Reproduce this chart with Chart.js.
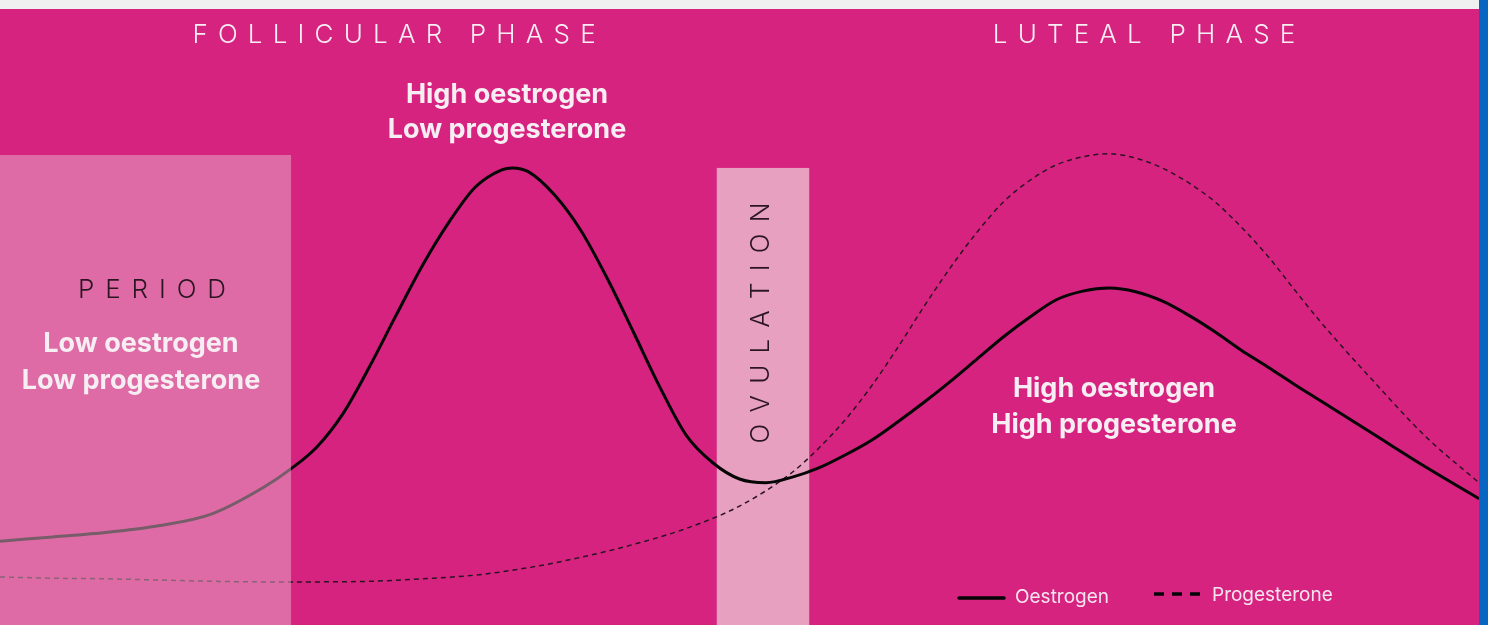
<!DOCTYPE html>
<html>
<head>
<meta charset="utf-8">
<script src="https://cdn.jsdelivr.net/npm/chart.js@4.4.1/dist/chart.umd.min.js"></script>
<style>
  html, body { margin: 0; padding: 0; background: #f0f0f0; overflow: hidden; }
  #wrap { position: absolute; left: 0; top: 9px; width: 1479px; height: 616px; }
  #stripe { position: absolute; left: 1479px; top: 0; width: 9px; height: 625px; background: #0766c1; }
</style>
</head>
<body>
<div id="wrap"><canvas id="chart"></canvas></div>
<div id="stripe"></div>
<script>
// cycle day (0-28) and relative hormone level (0-100)
const oestrogenDays = [0, 1, 2, 3, 4, 5, 5.5, 6, 6.5, 7, 7.5, 8, 8.5, 9, 9.5, 9.7, 10, 10.5, 11, 11.5, 12, 12.5, 13, 13.5, 14, 14.5, 15, 15.5, 16, 16.5, 17, 17.5, 18, 18.5, 19, 19.5, 20, 20.5, 21, 21.5, 22, 22.5, 23, 23.5, 24, 24.5, 25, 26, 27, 28]
const oestrogen = [13.6, 14.3, 15.0, 16.1, 18.0, 22.4, 25.3, 28.9, 34.4, 42.0, 50.3, 58.4, 65.4, 71.1, 73.9, 74.2, 73.6, 69.8, 64.0, 56.2, 47.4, 38.5, 30.7, 26.3, 23.7, 23.1, 24.0, 25.5, 27.6, 30.0, 33.0, 36.2, 39.6, 43.2, 46.8, 50.0, 52.8, 54.2, 54.7, 54.1, 52.6, 50.3, 47.6, 44.6, 41.9, 39.1, 36.4, 31.0, 25.6, 20.5]

const progesteroneDays = [0, 1, 2, 3, 4, 5, 6, 7, 8, 9, 10, 11, 12, 13, 14, 15, 15.5, 16, 16.5, 17, 17.5, 18, 18.5, 19, 19.5, 20, 20.5, 21, 21.5, 22, 22.5, 23, 23.5, 24, 24.5, 25, 26, 27, 28]
const progesterone = [7.8, 7.6, 7.5, 7.3, 7.1, 7.0, 7.0, 7.1, 7.5, 8.1, 9.3, 11.0, 13.1, 15.7, 19.3, 24.8, 28.7, 33.3, 38.8, 45.1, 51.8, 58.1, 63.8, 68.7, 72.2, 74.7, 76.0, 76.5, 75.8, 74.2, 71.8, 68.7, 64.6, 59.9, 54.5, 49.2, 39.6, 30.5, 23.1]

// shaded phases: [start day, end day, top level]
const periodBand = [0, 5.51, 76.3]
const ovulationBand = [13.57, 15.32, 74.2]

const seriesNames = ["Oestrogen", "Progesterone"]

function toPoints(xs, ys) {
  return xs.map((x, i) => ({x: x, y: ys[i]}))
}

function spacedText(ctx, text, cx, y, gap) {
  let widths = [...text].map(c => ctx.measureText(c).width)
  let total = widths.reduce((a, b) => a + b, 0) + gap * (text.length - 1)
  let x = cx - total / 2
  ctx.textAlign = "left"
  ;[...text].forEach((c, i) => {
    ctx.fillText(c, x, y)
    x += widths[i] + gap
  })
}

function band(chart, b, color) {
  const {ctx, scales: {x, y}} = chart
  let x0 = x.getPixelForValue(b[0]), x1 = x.getPixelForValue(b[1])
  let y0 = y.getPixelForValue(b[2]), y1 = y.getPixelForValue(0)
  ctx.fillStyle = color
  ctx.fillRect(x0, y0, x1 - x0, y1 - y0)
}

const decor = {
  id: "decor",
  beforeDraw(chart) {
    const ctx = chart.ctx
    ctx.save()
    ctx.fillStyle = "#d62380"
    ctx.fillRect(0, 0, chart.width, chart.height)
    ctx.restore()
  },
  beforeDatasetsDraw(chart) {
    const ctx = chart.ctx
    ctx.save()
    band(chart, ovulationBand, "#e8a0c1")
    ctx.restore()
  },
  afterDatasetsDraw(chart) {
    const ctx = chart.ctx
    ctx.save()
    band(chart, periodBand, "rgba(232,180,204,0.5)")

    // phase titles
    ctx.fillStyle = "#f6eef2"
    ctx.font = "300 26px Inter"
    ctx.textBaseline = "alphabetic"
    spacedText(ctx, "FOLLICULAR PHASE", 394, 34, 10.2)
    spacedText(ctx, "LUTEAL PHASE", 1144, 34, 10.2)

    ctx.fillStyle = "#2b1521"
    spacedText(ctx, "PERIOD", 152, 289, 10.9)

    // vertical ovulation label
    ctx.save()
    ctx.translate(769, 314)
    ctx.rotate(-Math.PI / 2)
    spacedText(ctx, "OVULATION", 0, 0, 11.2)
    ctx.restore()

    // hormone notes
    ctx.fillStyle = "#f6eef2"
    ctx.font = "700 27px Inter"
    ctx.textAlign = "center"
    ctx.fillText("High oestrogen", 507, 94)
    ctx.fillText("Low progesterone", 507, 129)
    ctx.fillText("Low oestrogen", 141, 343)
    ctx.fillText("Low progesterone", 141, 380)
    ctx.fillText("High oestrogen", 1114, 388)
    ctx.fillText("High progesterone", 1114, 424)

    // legend
    ctx.lineCap = "round"
    ctx.strokeStyle = "#050505"
    ctx.lineWidth = 3.5
    ctx.beginPath(); ctx.moveTo(959, 589); ctx.lineTo(1004, 589); ctx.stroke()
    ctx.setLineDash([10, 8])
    ctx.lineCap = "butt"
    ctx.beginPath(); ctx.moveTo(1154, 585); ctx.lineTo(1204, 585); ctx.stroke()
    ctx.setLineDash([])
    ctx.fillStyle = "#f6e4ee"
    ctx.font = "400 19px Inter"
    ctx.textAlign = "left"
    ctx.fillText(seriesNames[0], 1015, 594)
    ctx.fillText(seriesNames[1], 1212, 592)
    ctx.restore()
  }
}

const chart = new Chart("chart", {
  type: "line",
  data: {
    datasets: [
      {
        label: seriesNames[0],
        data: toPoints(oestrogenDays, oestrogen),
        borderColor: "#060606",
        borderWidth: 3,
        pointRadius: 0,
        cubicInterpolationMode: "monotone",
      },
      {
        label: seriesNames[1],
        data: toPoints(progesteroneDays, progesterone),
        borderColor: "#2a1420",
        borderWidth: 1.5,
        borderDash: [5, 4],
        pointRadius: 0,
        cubicInterpolationMode: "monotone",
      }
    ]
  },
  options: {
    responsive: true,
    maintainAspectRatio: false,
    animation: false,
    layout: {padding: 0},
    plugins: {
      legend: {display: false},
      tooltip: {enabled: false},
    },
    scales: {
      x: {type: "linear", min: 0, max: 28, display: false},
      y: {min: 0, max: 100, display: false}
    },
  },
  plugins: [decor]
})
</script>
</body>
</html>
